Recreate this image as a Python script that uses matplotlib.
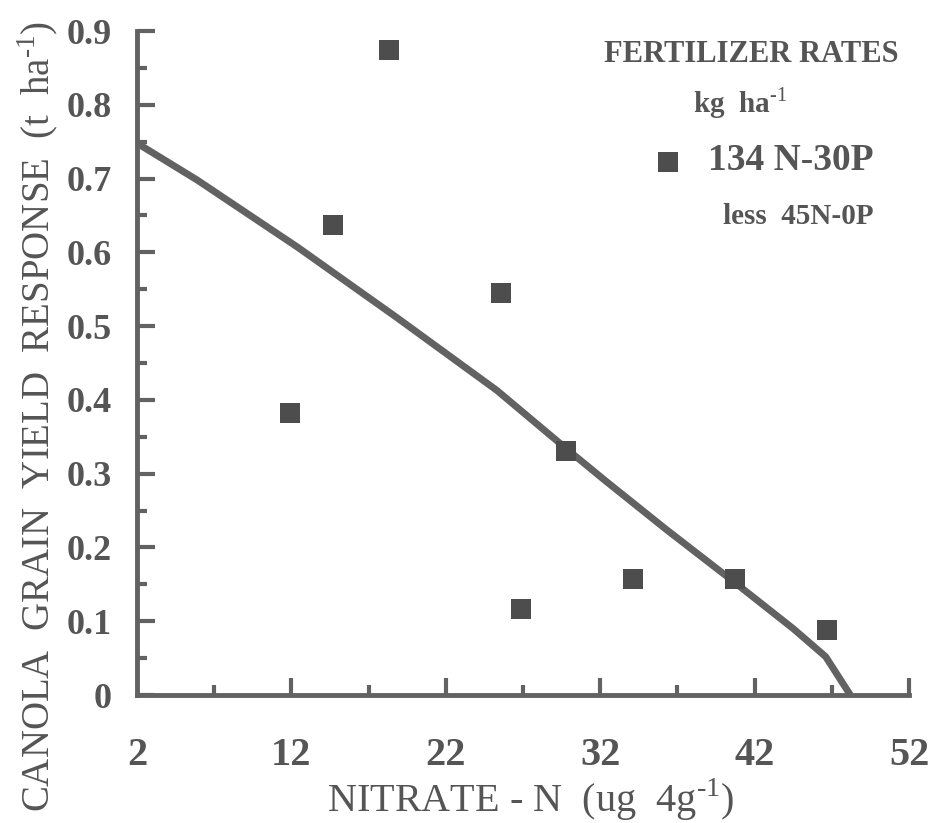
import matplotlib

matplotlib.use("Agg")
import matplotlib.pyplot as plt
from matplotlib.ticker import MultipleLocator, FixedLocator

plt.rcParams["font.family"] = ["Liberation Serif", "DejaVu Serif"]
plt.rcParams["mathtext.fontset"] = "custom"
plt.rcParams["mathtext.rm"] = "Liberation Serif"

# 实测点 (134N-30P 减 45N-0P)
nitrate = [11.9, 14.7, 18.3, 25.6, 26.9, 29.8, 34.1, 40.7, 46.7]
response = [0.382, 0.637, 0.874, 0.545, 0.117, 0.331, 0.157, 0.157, 0.088]

# 拟合曲线
fit_x = [2, 5.9, 12.4, 18.8, 25.3, 29.8, 32.3, 36.3, 40.5, 44.5, 46.6, 48.2]
fit_y = [0.748, 0.698, 0.607, 0.512, 0.413, 0.334, 0.291, 0.224, 0.156, 0.090, 0.052, 0.0]

x_major = [12, 22, 32, 42, 52]
x_minor = [7, 17, 27, 37, 47]
x_labels = ["2", "12", "22", "32", "42", "52"]

INK = "#555555"
LINE = "#626262"
MARK = "#4d4d4d"

fig = plt.figure(figsize=(9.29, 8.23), dpi=100)
ax = fig.add_axes([0.1475, 0.1555, 0.831, 0.8068])

ax.plot(fit_x, fit_y, color=LINE, lw=5, solid_capstyle="butt",
        solid_joinstyle="round", zorder=2)
ax.plot(nitrate, response, ls="none", marker="s", ms=15, color=MARK,
        markeredgewidth=0, zorder=3)

ax.set_xlim(2, 52)
ax.set_ylim(0, 0.9)
for s in ("top", "right"):
    ax.spines[s].set_visible(False)
for s in ("left", "bottom"):
    ax.spines[s].set_linewidth(3.5)
    ax.spines[s].set_color(LINE)
    ax.spines[s].set_capstyle("projecting")

ax.xaxis.set_major_locator(FixedLocator(x_major))
ax.xaxis.set_minor_locator(FixedLocator(x_minor))
ax.yaxis.set_major_locator(MultipleLocator(0.1))
ax.yaxis.set_minor_locator(MultipleLocator(0.05))
ax.tick_params(axis="both", which="both", direction="in", color=LINE,
               width=3)
ax.tick_params(axis="x", which="major", length=12, pad=30)
ax.tick_params(axis="x", which="minor", length=7)
ax.tick_params(axis="y", which="major", length=13, pad=18)
ax.tick_params(axis="y", which="minor", length=7)

ax.set_xticks([2] + x_major)
ax.set_xticklabels(x_labels, fontsize=29, color=INK, fontweight="bold")
ax.set_yticks([i / 10 for i in range(10)])
ax.set_yticklabels(["0"] + [f"{i / 10:.1f}" for i in range(1, 10)],
                   fontsize=26, color=INK, fontweight="bold")
# 不在 x=2 处画刻度线
ax.xaxis.get_major_ticks()[0].tick1line.set_visible(False)

ax.set_ylabel(r"CANOLA  GRAIN  YIELD  RESPONSE  (t  ha$^{\text{-1}}$)",
              fontsize=28, color=INK)
ax.yaxis.set_label_coords(-0.099, 0.42)
fig.text(531 / 929, 1 - 800 / 823, r"NITRATE - N  (ug  4g$^{\text{-1}}$)",
         fontsize=29, color=INK, ha="center", va="center")

# 图例
fig.text(751 / 929, 1 - 55 / 823, "FERTILIZER RATES", fontsize=22,
         color=INK, fontweight="bold", ha="center", va="center")
fig.text(740 / 929, 1 - 103 / 823, r"kg  ha$^{\text{-1}}$", fontsize=21,
         color=INK, fontweight="bold", ha="center", va="center")
fig.lines.append(plt.Line2D([668 / 929], [1 - 162 / 823], ls="none",
                            marker="s", ms=15, color=MARK, markeredgewidth=0,
                            transform=fig.transFigure))
fig.text(708 / 929, 1 - 160 / 823, "134 N-30P", fontsize=27, color=INK,
         fontweight="bold", ha="left", va="center")
fig.text(723 / 929, 1 - 217 / 823, "less  45N-0P", fontsize=21, color=INK,
         fontweight="bold", ha="left", va="center")

fig.savefig("out.png", dpi=100)
